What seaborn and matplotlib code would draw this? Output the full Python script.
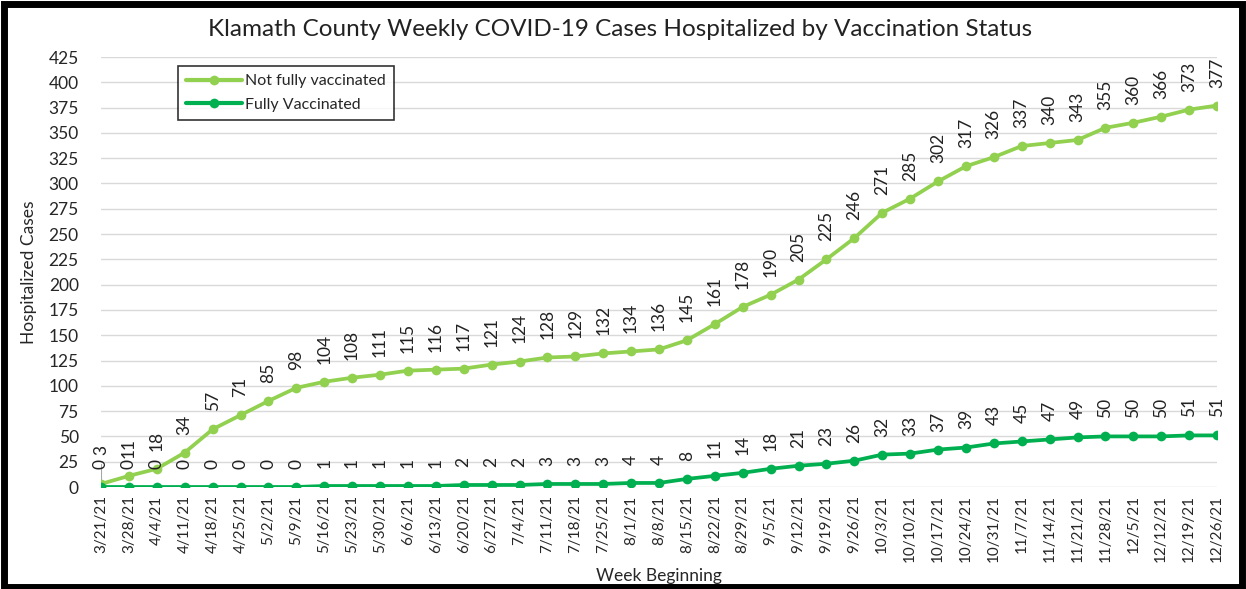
import pandas as pd
import matplotlib.pyplot as plt
import seaborn as sns

# Данные по неделям
weeks = ['3/21/21', '3/28/21', '4/4/21', '4/11/21', '4/18/21', '4/25/21', '5/2/21',
         '5/9/21', '5/16/21', '5/23/21', '5/30/21', '6/6/21', '6/13/21', '6/20/21',
         '6/27/21', '7/4/21', '7/11/21', '7/18/21', '7/25/21', '8/1/21', '8/8/21',
         '8/15/21', '8/22/21', '8/29/21', '9/5/21', '9/12/21', '9/19/21', '9/26/21',
         '10/3/21', '10/10/21', '10/17/21', '10/24/21', '10/31/21', '11/7/21',
         '11/14/21', '11/21/21', '11/28/21', '12/5/21', '12/12/21', '12/19/21', '12/26/21']
not_fully = [3, 11, 18, 34, 57, 71, 85, 98, 104, 108, 111, 115, 116, 117, 121, 124,
             128, 129, 132, 134, 136, 145, 161, 178, 190, 205, 225, 246, 271, 285,
             302, 317, 326, 337, 340, 343, 355, 360, 366, 373, 377]
fully = [0, 0, 0, 0, 0, 0, 0, 0, 1, 1, 1, 1, 1, 2, 2, 2, 3, 3, 3, 4, 4, 8, 11, 14,
         18, 21, 23, 26, 32, 33, 37, 39, 43, 45, 47, 49, 50, 50, 50, 51, 51]
series_names = ['Not fully vaccinated', 'Fully Vaccinated']
colors = ['#92D050', '#00B050']
yticks = list(range(0, 426, 25))

df = pd.DataFrame({
    'week': list(range(len(weeks))) * 2,
    'cases': not_fully + fully,
    'status': [series_names[0]] * len(weeks) + [series_names[1]] * len(weeks),
})

sns.set_style('white')
plt.rcParams['font.family'] = ['Lato', 'DejaVu Sans']

fig = plt.figure(figsize=(12.46, 5.89), dpi=100)
ax = fig.add_axes([101 / 1246, 1 - 487 / 589, (1217 - 101) / 1246, (487 - 57) / 589])

sns.lineplot(data=df, x='week', y='cases', hue='status', palette=colors,
             marker='o', markersize=7, markeredgewidth=0, linewidth=2.7, ax=ax)

for k, vals in enumerate([not_fully, fully]):
    for i, v in enumerate(vals):
        off = 13
        if k == 0 and i == 0:
            # первая метка сдвинута вверх над "0", как в Excel
            off = 21
        ax.annotate(str(v), (i, v), xytext=(0, off), textcoords='offset points',
                    rotation=90, ha='center', va='bottom', fontsize=12.5, color='#222222')
# выноска к первой метке
ax.plot([0, 0], [not_fully[0], 23], color='#A6A6A6', linewidth=0.8, zorder=1)

ax.set_xlim(0, len(weeks) - 1)
ax.set_ylim(0, 425)
ax.set_xticks(range(len(weeks)))
ax.set_xticklabels(weeks, rotation=90, fontsize=11)
ax.set_yticks(yticks)
ax.set_yticklabels([str(t) for t in yticks], fontsize=12.5)
ax.tick_params(axis='y', length=0, pad=16)
ax.tick_params(axis='x', length=0, pad=6)
ax.grid(axis='y', color='#D9D9D9', linewidth=1)
ax.set_axisbelow(True)
for s in ax.spines.values():
    s.set_visible(False)

ax.set_xlabel('Week Beginning', fontsize=12.5, labelpad=4)
ax.set_ylabel('Hospitalized Cases', fontsize=12.5, labelpad=8)
fig.text(620 / 1246, 1 - 30 / 589, 'Klamath County Weekly COVID-19 Cases Hospitalized by Vaccination Status',
         ha='center', va='center', fontsize=17.5, color='#222222')

leg = ax.legend(loc='upper left', bbox_to_anchor=((178 - 101) / 1116, 1 - (66 - 57) / 430),
                fontsize=11.5, frameon=True, fancybox=False, edgecolor='black',
                handlelength=3.5, borderpad=0.5, labelspacing=0.6, handletextpad=0.2,
                borderaxespad=0)
leg.get_frame().set_linewidth(1.2)
for line in leg.get_lines():
    line.set_linewidth(3)

# Рамка вокруг всей картинки
fig.patches.append(plt.Rectangle((0.003, 0.004), 0.994, 0.99, transform=fig.transFigure,
                                 fill=False, edgecolor='black', linewidth=5))

fig.savefig('out.png', dpi=100)
